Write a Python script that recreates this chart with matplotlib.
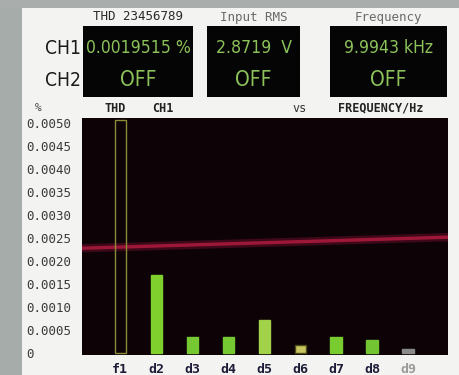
import matplotlib
matplotlib.use("Agg")
import matplotlib.pyplot as plt
from matplotlib.patches import Rectangle
from matplotlib import font_manager
from matplotlib.font_manager import FontProperties

# ---------------- data ----------------
harmonics = ["f1", "d2", "d3", "d4", "d5", "d6", "d7", "d8", "d9"]
thd_values = [0.00507, 0.0017, 0.00036, 0.00036, 0.00071, 0.00018, 0.00035, 0.00028, 0.0001]
bar_colors = ["none", "#7fd02c", "#76c832", "#76c832", "#a2d24a", "#c8c460", "#78cc30", "#72c432", "#8a8a8a"]
bar_edges = ["#8c8a36", "#7fd02c", "#76c832", "#76c832", "#a2d24a", "#4a4a18", "#78cc30", "#72c432", "#8a8a8a"]
thd_line = [0.00228, 0.00252]           # red THD trace, left end / right end
y_ticks = [0, 0.0005, 0.0010, 0.0015, 0.0020, 0.0025, 0.0030, 0.0035, 0.0040, 0.0045, 0.0050]
y_tick_labels = ["0", "0.0005", "0.0010", "0.0015", "0.0020", "0.0025",
                 "0.0030", "0.0035", "0.0040", "0.0045", "0.0050"]
box_titles = ["THD 23456789", "Input RMS", "Frequency"]
ch1_readings = ["0.0019515 %", "2.8719  V", "9.9943 kHz"]
ch2_readings = ["OFF", "OFF", "OFF"]

W, H = 459, 375
fig = plt.figure(figsize=(W / 100, H / 100), dpi=100)
fig.patch.set_facecolor("#f3f3f1")

# look for a condensed face for the LCD-like readouts
cond_file = None
for f in font_manager.fontManager.ttflist:
    nm = (f.name + " " + f.fname).lower()
    if ("condensed" in nm or "narrow" in nm) and "bold" not in nm and "oblique" not in nm and "italic" not in nm:
        cond_file = f.fname
        break


def lcd_font(size, bold=False):
    if cond_file:
        return FontProperties(fname=cond_file, size=size * 1.2)
    return FontProperties(family="DejaVu Sans", size=size, weight="bold" if bold else "normal")


mono = ["DejaVu Sans Mono"]

# overlay in pixel coordinates for the panel decoration
ov = fig.add_axes([0, 0, 1, 1])
ov.set_xlim(0, W)
ov.set_ylim(H, 0)
ov.axis("off")
ov.add_patch(Rectangle((0, 0), 22, H, color="#a6acaa", lw=0))
ov.add_patch(Rectangle((0, 0), W, 8, color="#a9aeac", lw=0))
ov.add_patch(Rectangle((22, 8), W - 22, H - 8, color="#f3f3f1", lw=0))

boxes = [(83, 193), (207, 300), (330, 447)]
title_colors = ["#2a2a2a", "#6a6a6a", "#6a6a6a"]
for (x0, x1), t, c1, c2, tc in zip(boxes, box_titles, ch1_readings, ch2_readings, title_colors):
    ov.add_patch(Rectangle((x0, 26), x1 - x0, 71, color="#050505", lw=0))
    cx = (x0 + x1) / 2
    ov.text(cx, 17, t, ha="center", va="center", family=mono, fontsize=9, color=tc)
    ov.text(cx, 48, c1, ha="center", va="center", fontproperties=lcd_font(10.5), color="#8cc25a")
    ov.text(cx, 80, c2, ha="center", va="center", fontproperties=lcd_font(12.5, True), color="#8cc25a")

ov.text(63, 48, "CH1", ha="center", va="center", fontproperties=lcd_font(11.5), color="#1a1a1a")
ov.text(63, 80, "CH2", ha="center", va="center", fontproperties=lcd_font(11.5), color="#1a1a1a")

ov.text(38, 108, "%", ha="center", va="center", family=mono, fontsize=8, color="#444444")
ov.text(115, 108, "THD", ha="center", va="center", family=mono, fontsize=8.5, color="#222222", fontweight="bold")
ov.text(163, 108, "CH1", ha="center", va="center", family=mono, fontsize=8.5, color="#222222", fontweight="bold")
ov.text(300, 108, "vs", ha="center", va="center", family=mono, fontsize=8.5, color="#333333")
ov.text(381, 108, "FREQUENCY/Hz", ha="center", va="center", family=mono, fontsize=8.5, color="#222222",
        fontweight="bold")

# ---------------- main chart ----------------
L, R, T, B = 82, 448, 118, 355
ax = fig.add_axes([L / W, 1 - B / H, (R - L) / W, (B - T) / H])
ax.set_facecolor("#0d0307")
xmin, xmax = -1.06, 9.11
ax.set_xlim(xmin, xmax)
ax.set_ylim(-0.00004, 0.00511)

pos = list(range(len(harmonics)))
ax.bar(pos, thd_values, width=0.31, color=bar_colors, edgecolor=bar_edges, linewidth=1.0, zorder=3)
ax.plot([xmin, xmax], thd_line, color="#7a1030", lw=6, alpha=0.45, zorder=2)
ax.plot([xmin, xmax], thd_line, color="#a81a3c", lw=2.4, alpha=0.9, zorder=2)

for s in ax.spines.values():
    s.set_visible(False)
ax.set_yticks(y_ticks)
ax.set_yticklabels(y_tick_labels, family=mono, fontsize=9, color="#3a3a3a")
for lab in ax.get_yticklabels():
    lab.set_horizontalalignment("left")
ax.tick_params(axis="y", length=0, pad=40)
ax.set_xticks(pos)
ax.set_xticklabels(harmonics, family=mono, fontsize=9.5, fontweight="bold", color="#1c1c38")
ax.get_xticklabels()[-1].set_color("#9a9a9a")
ax.tick_params(axis="x", length=0, pad=6)

fig.savefig("out.png", dpi=100, facecolor=fig.get_facecolor())
